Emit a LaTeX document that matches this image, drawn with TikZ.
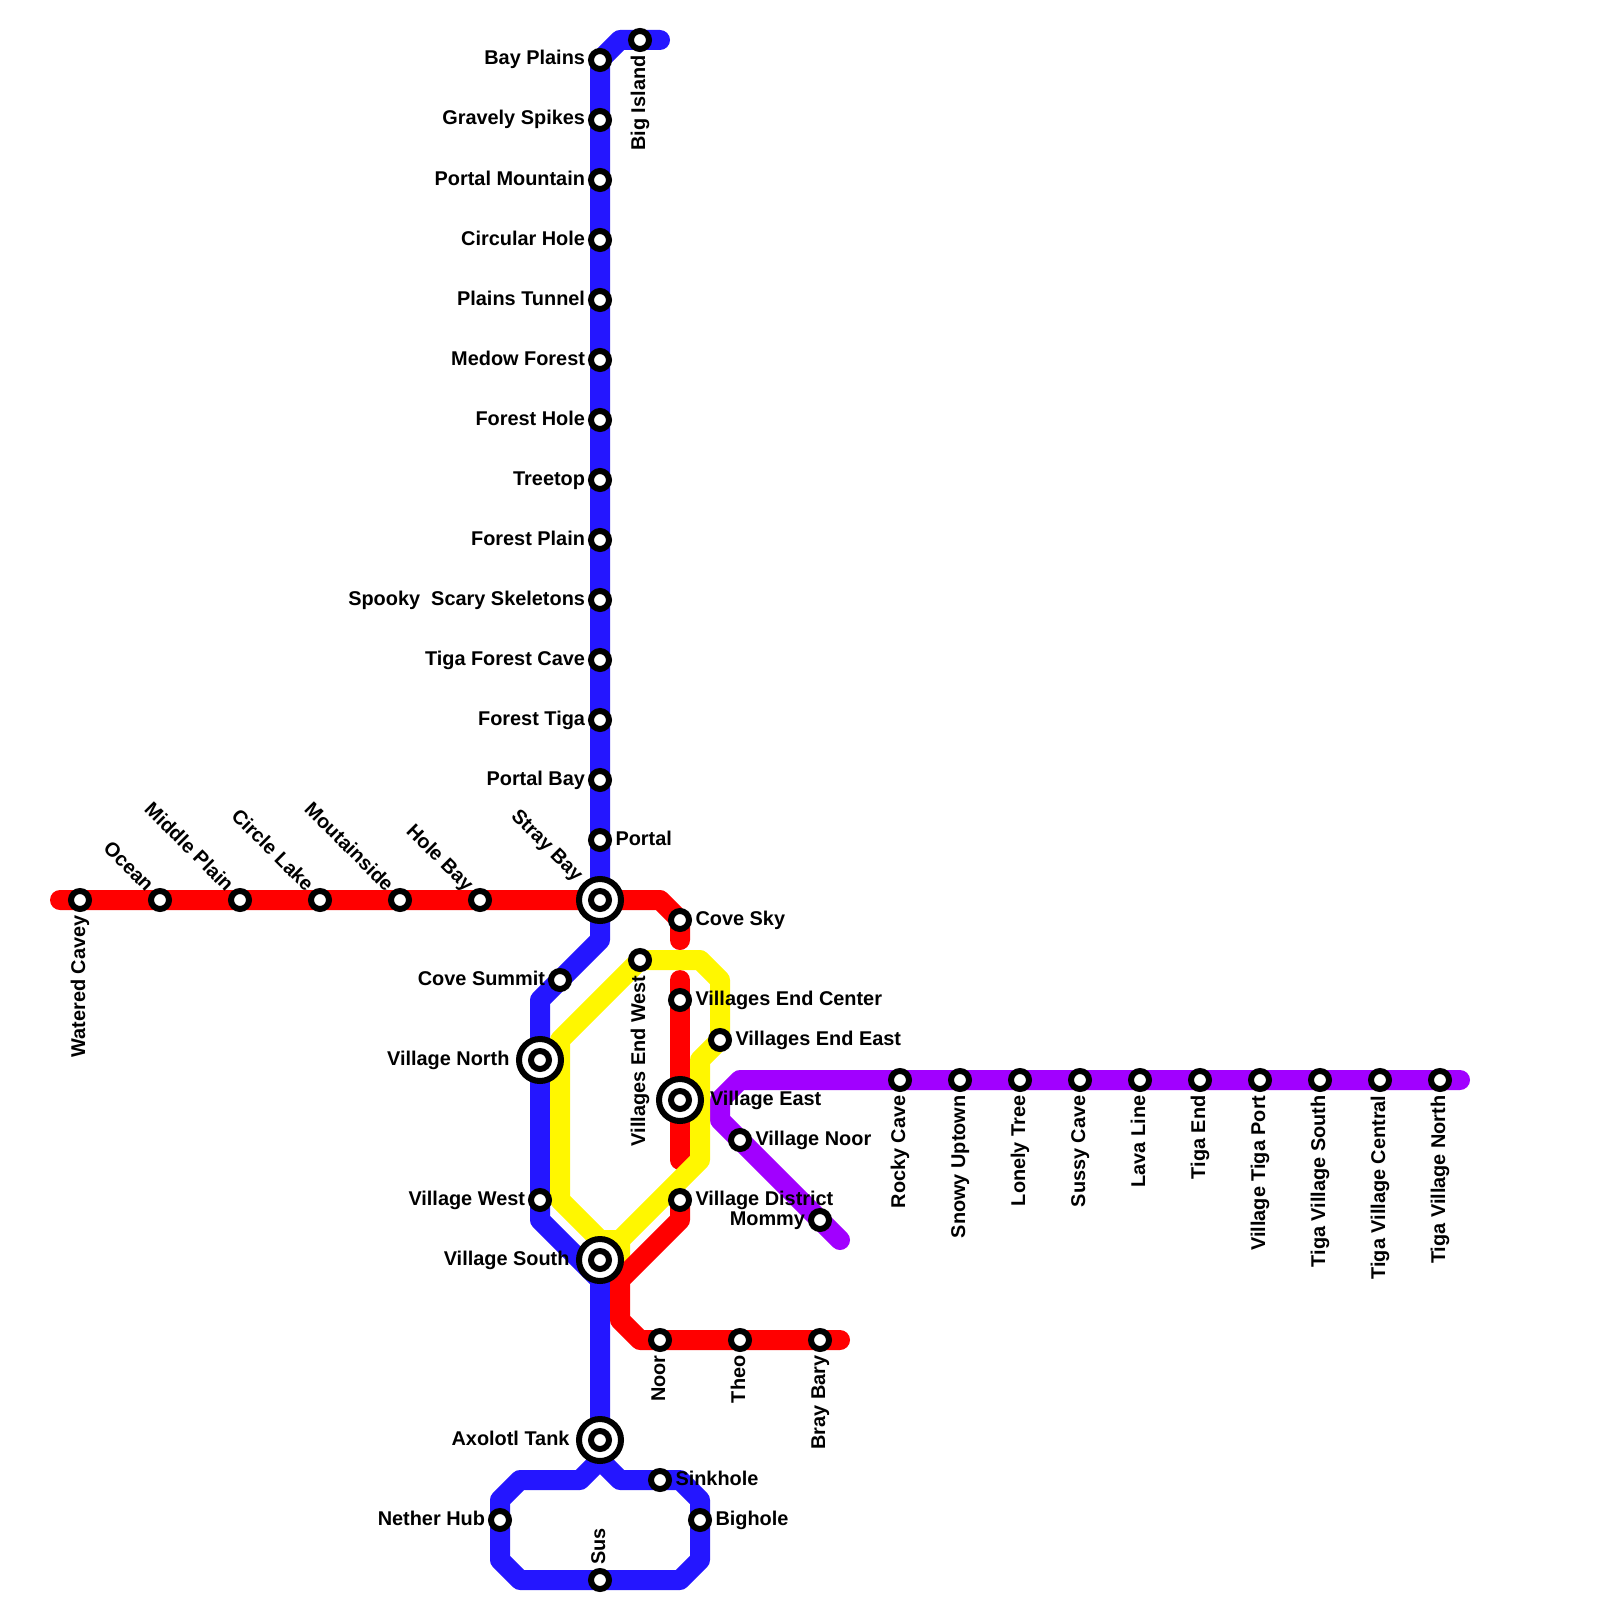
\documentclass[tikz,border=0pt]{standalone}
\usepackage{fontspec}
\setmainfont{Liberation Sans}
\pgfdeclarelayer{lines}
\pgfsetlayers{lines,main}
\definecolor{lineblue}{HTML}{2416FF}
\definecolor{linered}{HTML}{FF0000}
\definecolor{lineyellow}{HTML}{FFF700}
\definecolor{linepurple}{HTML}{A100FF}
\tikzset{
  metro/.style={line width=10pt,line cap=round,line join=round},
  blueL/.style={metro,draw=lineblue},
  redL/.style={metro,draw=linered},
  yellowL/.style={metro,draw=lineyellow},
  purpleL/.style={metro,draw=linepurple},
  stn/.style={circle,draw=black,fill=white,line width=3pt,minimum size=9pt,inner sep=0pt,outer sep=0pt},
  hubo/.style={circle,draw=black,fill=white,line width=3pt,minimum size=21pt,inner sep=0pt,outer sep=0pt},
  lab/.style={font=\bfseries\fontsize{9.95pt}{12pt}\selectfont,inner sep=0pt,outer sep=0pt,text=black}
}
% stations: name, x, y
\newcommand{\stn}[3]{\node[stn] (#1) at (#2,#3) {};}
\newcommand{\hub}[3]{\node[hubo] (#1) at (#2,#3) {}; \node[stn] (#1-in) at (#1.center) {};}
% labels: station name, text
\newcommand{\lR}[2]{\node[lab,anchor=base west] (#1-t) at ([shift={(15.5,5)}]#1.center) {#2};}
\newcommand{\lL}[2]{\node[lab,anchor=base east] (#1-t) at ([shift={(-15,5)}]#1.center) {#2};}
\newcommand{\lD}[2]{\node[lab,anchor=base east,rotate=90] (#1-t) at ([shift={(5,15.5)}]#1.center) {#2};}
\newcommand{\lU}[2]{\node[lab,anchor=base west,rotate=90] (#1-t) at ([shift={(5,-15.5)}]#1.center) {#2};}
\newcommand{\lG}[2]{\node[lab,anchor=base east,rotate=-45] (#1-t) at ([shift={(-14.5,-7.5)}]#1.center) {#2};}
\begin{document}
\begin{tikzpicture}[x=0.5pt,y=-0.5pt]
\useasboundingbox (0,0) rectangle (1600,1600);
% blue
\stn{bayplains}{600}{60}\stn{gravely}{600}{120}\stn{portalmtn}{600}{180}\stn{circhole}{600}{240}
\stn{plainstun}{600}{300}\stn{medow}{600}{360}\stn{foresthole}{600}{420}\stn{treetop}{600}{480}
\stn{forestplain}{600}{540}\stn{scary}{600}{600}\stn{tigaforest}{600}{660}\stn{foresttiga}{600}{720}
\stn{portalbay}{600}{780}\stn{portal}{600}{840}\stn{bigisland}{640}{40}
\hub{straybay}{600}{900}
\stn{covesummit}{560}{980}\hub{vnorth}{540}{1060}\stn{vwest}{540}{1200}\hub{vsouth}{600}{1260}
\hub{axolotl}{600}{1440}\stn{sinkhole}{660}{1480}\stn{bighole}{700}{1520}\stn{netherhub}{500}{1520}\stn{sus}{600}{1580}
% red
\stn{watered}{80}{900}\stn{ocean}{160}{900}\stn{middleplain}{240}{900}\stn{circlelake}{320}{900}
\stn{moutain}{400}{900}\stn{holebay}{480}{900}\stn{covesky}{680}{920}\stn{vecenter}{680}{1000}
\hub{veast}{680}{1100}\stn{vdistrict}{680}{1200}\stn{noor}{660}{1340}\stn{theo}{740}{1340}\stn{braybary}{820}{1340}
% yellow
\stn{vewest}{640}{960}\stn{veeast}{720}{1040}
% purple
\stn{vnoor}{740}{1140}\stn{mommy}{820}{1220}
\stn{rocky}{900}{1080}\stn{snowy}{960}{1080}\stn{lonely}{1020}{1080}\stn{sussy}{1080}{1080}\stn{lava}{1140}{1080}
\stn{tigaend}{1200}{1080}\stn{vtport}{1260}{1080}\stn{tvsouth}{1320}{1080}\stn{tvcentral}{1380}{1080}\stn{tvnorth}{1440}{1080}
\begin{pgfonlayer}{lines}
\draw[blueL] (bigisland.center) -- (660,40) (bigisland.center) -- (620,40) -- (bayplains.center) -- (gravely.center) -- (portalmtn.center) -- (circhole.center) -- (plainstun.center) -- (medow.center) -- (foresthole.center) -- (treetop.center) -- (forestplain.center) -- (scary.center) -- (tigaforest.center) -- (foresttiga.center) -- (portalbay.center) -- (portal.center) -- (straybay.center) -- (600,940) -- (covesummit.center) -- (540,1000) -- (vnorth.center) -- (vwest.center) -- (540,1220) -- (600,1280) -- (vsouth.center) -- (axolotl.center) -- (600,1460) -- (580,1480) -- (520,1480) -- (500,1500) -- (netherhub.center) -- (500,1560) -- (520,1580) -- (sus.center) -- (680,1580) -- (700,1560) -- (bighole.center) -- (700,1500) -- (680,1480) -- (sinkhole.center) -- (620,1480) -- (600,1460);
\draw[purpleL] (tvnorth.center) -- (1460,1080) (tvnorth.center) -- (tvcentral.center) -- (tvsouth.center) -- (vtport.center) -- (tigaend.center) -- (lava.center) -- (sussy.center) -- (lonely.center) -- (snowy.center) -- (rocky.center) -- (740,1080) -- (720,1100) -- (720,1120) -- (vnoor.center) -- (mommy.center) -- (840,1240);
\draw[redL] (60,900) -- (watered.center) -- (ocean.center) -- (middleplain.center) -- (circlelake.center) -- (moutain.center) -- (holebay.center) -- (straybay.center) -- (660,900) -- (covesky.center) -- (680,940);
\draw[redL] (680,980) -- (vecenter.center) -- (veast.center) -- (680,1160);
\draw[yellowL] (620,1260) -- (620,1240) -- (700,1160) -- (700,1060) -- (veeast.center) -- (720,980) -- (700,960) -- (vewest.center) -- (560,1040) -- (560,1200) -- (600,1240) -- (620,1240);
\draw[redL] (vdistrict.center) -- (680,1220) -- (620,1280) -- (620,1320) -- (640,1340) -- (noor.center) -- (theo.center) -- (braybary.center) -- (840,1340);
\end{pgfonlayer}
% labels
\lL{bayplains}{Bay Plains}\lL{gravely}{Gravely Spikes}\lL{portalmtn}{Portal Mountain}\lL{circhole}{Circular Hole}
\lL{plainstun}{Plains Tunnel}\lL{medow}{Medow Forest}\lL{foresthole}{Forest Hole}\lL{treetop}{Treetop}
\lL{forestplain}{Forest Plain}\lL{scary}{Spooky\ \ Scary Skeletons}\lL{tigaforest}{Tiga Forest Cave}\lL{foresttiga}{Forest Tiga}
\lL{portalbay}{Portal Bay}\lR{portal}{Portal}\lD{bigisland}{Big Island}
\lL{covesummit}{Cove Summit}\lL{vwest}{Village West}\lL{netherhub}{Nether Hub}
\lR{sinkhole}{Sinkhole}\lR{bighole}{Bighole}\lU{sus}{Sus}
\node[lab,anchor=base east] (vnorth-t) at ([shift={(-30.5,5)}]vnorth.center) {Village North};
\node[lab,anchor=base east] (vsouth-t) at ([shift={(-30.5,5)}]vsouth.center) {Village South};
\node[lab,anchor=base east] (axolotl-t) at ([shift={(-30.5,5)}]axolotl.center) {Axolotl Tank};
\node[lab,anchor=base west] (veast-t) at ([shift={(30,5)}]veast.center) {Village East};
\node[lab,anchor=base east,rotate=-45] (straybay-t) at ([shift={(-24.7,-17.7)}]straybay.center) {Stray Bay};
\lD{watered}{Watered Cavey}\lG{ocean}{Ocean}\lG{middleplain}{Middle Plain}\lG{circlelake}{Circle Lake}
\lG{moutain}{Moutainside}\lG{holebay}{Hole Bay}
\lR{covesky}{Cove Sky}\lR{vecenter}{Villages End Center}\lR{vdistrict}{Village District}
\lD{noor}{Noor}\lD{theo}{Theo}\lD{braybary}{Bray Bary}
\lD{vewest}{Villages End West}\lR{veeast}{Villages End East}
\lR{vnoor}{Village Noor}\lL{mommy}{Mommy}
\lD{rocky}{Rocky Cave}\lD{snowy}{Snowy Uptown}\lD{lonely}{Lonely Tree}\lD{sussy}{Sussy Cave}\lD{lava}{Lava Line}
\lD{tigaend}{Tiga End}\lD{vtport}{Village Tiga Port}\lD{tvsouth}{Tiga Village South}\lD{tvcentral}{Tiga Village Central}\lD{tvnorth}{Tiga Village North}
\end{tikzpicture}
\end{document}
